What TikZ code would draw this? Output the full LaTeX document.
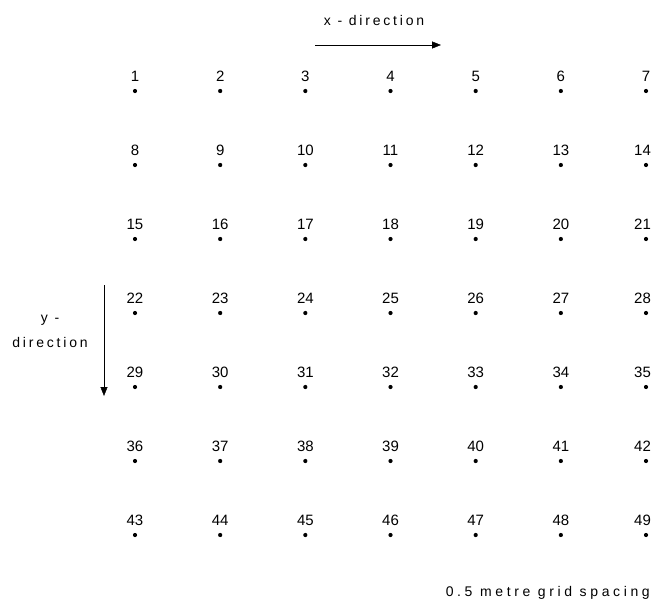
\documentclass[tikz,border=0pt]{standalone}
\usepackage{fontspec}
\setmainfont{Liberation Sans}
\newfontfamily\spacedfont[LetterSpace=20]{Liberation Sans}
\newfontfamily\widefont[LetterSpace=26]{Liberation Sans}
\usetikzlibrary{arrows.meta}

\begin{document}
\begin{tikzpicture}[
  x=1pt, y=-1pt,
  gridpoint/.style={circle, fill=black, minimum size=4.2pt, inner sep=0pt},
  numlabel/.style={font=\fontsize{15}{15}\selectfont, inner sep=0pt},
  note/.style={font=\spacedfont\fontsize{14}{25}\selectfont, inner sep=0pt},
  >={Triangle[length=9pt,width=7pt]}
]
  \useasboundingbox (0,0) rectangle (651,598);
  % grid of measuring points
  \foreach \r in {0,...,6}{
    \foreach \c in {0,...,6}{
      \pgfmathtruncatemacro{\n}{7*\r+\c+1}
      \pgfmathsetmacro{\dx}{\c==6 ? (\n>9 ? -3.5 : 0) : 0}
      \node[gridpoint, label={[numlabel, label distance=7pt, xshift=\dx pt]above:\n}] (p\n) at (135+85.17*\c, 91+74*\r) {};
    }
  }
  % direction arrows
  \coordinate (xstart) at (315,45);
  \coordinate (xend) at (441,45);
  \coordinate (ystart) at (104,285);
  \coordinate (yend) at (104,396);
  \draw[->] (xstart) -- (xend);
  \draw[->] (ystart) -- (yend);
  \node[note] (xlabel) at (374,20) {x - direction};
  \node[note, align=center] (ylabel) at (50,331) {y -\\direction};
  \node[note, font=\widefont\fontsize{14}{16}\selectfont, anchor=base east] (spacing) at (650,596) {0.5 metre grid spacing};
\end{tikzpicture}
\end{document}
